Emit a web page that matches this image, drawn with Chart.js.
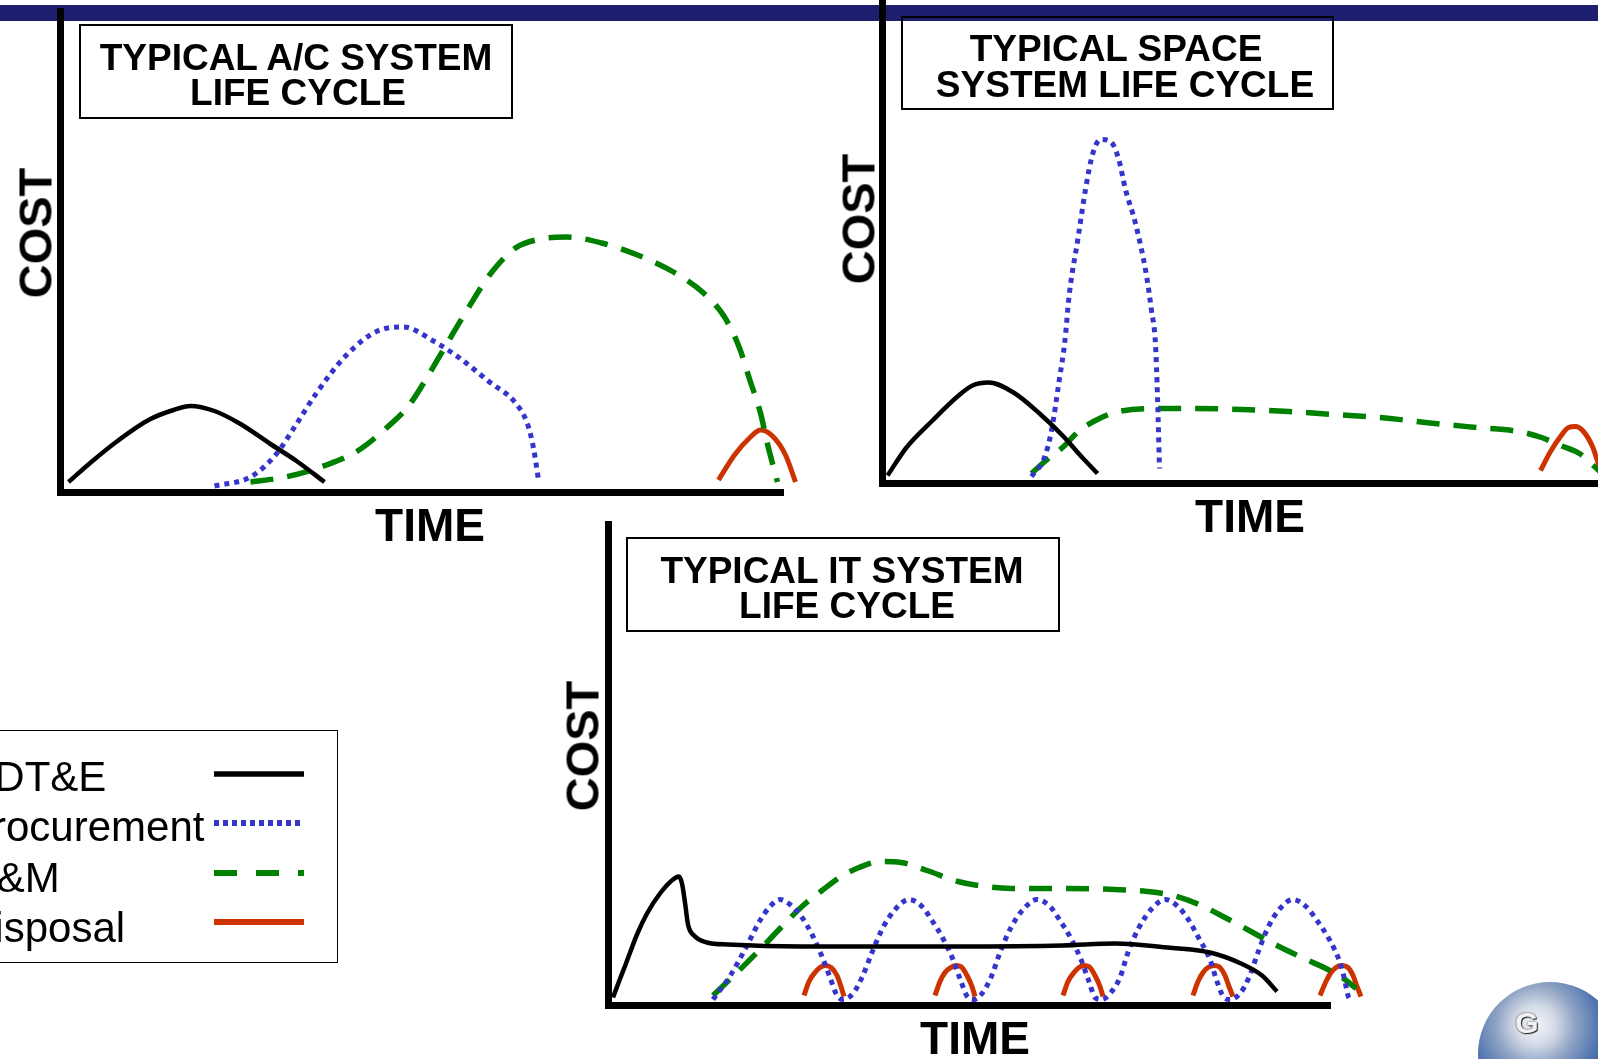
<!DOCTYPE html>
<html>
<head>
<meta charset="utf-8">
<script src="https://cdn.jsdelivr.net/npm/chart.js@4.4.1/dist/chart.umd.min.js"></script>
<style>
  html, body { margin: 0; padding: 0; width: 1598px; height: 1059px; overflow: hidden; background: #fff; position: relative; }
  canvas { position: absolute; left: 0; top: 0; }
  .bar { position: absolute; left: 0; top: 5px; width: 1598px; height: 16px; background: #1e1e6e; }
  .lbl { position: absolute; line-height: 1; white-space: nowrap; font-family: "Liberation Sans", Arial, sans-serif; color: #000; }
  .box { position: absolute; box-sizing: border-box; border: 2px solid #000; }
  .globe { position: absolute; left: 1478px; top: 982px; width: 144px; height: 144px; border-radius: 50%;
           background: radial-gradient(circle at 40% 30%, #f4f6fa 0%, #d3dae6 15%, #8fa3c4 30%, #4f74b0 48%, #2f528e 65%, #223a68 82%, #1b2a4c 100%); filter: blur(0.6px); }
</style>
</head>
<body>
<div class="bar"></div>
<canvas id="acChart" width="1598" height="1059"></canvas>
<canvas id="spaceChart" width="1598" height="1059"></canvas>
<canvas id="itChart" width="1598" height="1059"></canvas>

<script>
// ---- series names + styles (shared legend) ----
const SERIES = ['RDT&E', 'Procurement', 'O&M', 'Disposal'];
const COLORS = ['#000000', '#3535cc', '#008000', '#cc3300'];
const WIDTHS = [4.5, 5, 5.5, 5];
const DASHES = [[], [5, 5], [23, 14], []];

// ---- A/C system (time / cost, no units) ----
const AC_RDTE_X = [8, 32, 57, 88, 113, 130, 154, 180, 210, 236, 264];
const AC_RDTE_Y = [10, 31, 51, 72, 82, 86, 81, 68, 48, 31, 10];
const AC_PROC_X = [154, 190, 215, 236, 256, 286, 317, 343, 373, 399, 429, 455, 467, 473, 478];
const AC_PROC_Y = [6, 15, 37, 68, 99, 137, 161, 165, 151, 134, 110, 89, 68, 44, 12];
const AC_OM_X = [190, 225, 266, 297, 327, 348, 368, 388, 409, 429, 455, 480, 506, 541, 577, 613, 643, 664, 679, 689, 700, 707, 717];
const AC_OM_Y = [10, 15, 27, 41, 65, 86, 117, 151, 186, 217, 244, 253, 255, 249, 237, 220, 199, 175, 144, 113, 79, 48, 10];
const AC_DISP_X = [658, 674, 690, 700, 712, 725, 735];
const AC_DISP_Y = [12, 37, 55, 62, 56, 37, 10];

// ---- Space system ----
const SP_RDTE_X = [5, 24, 50, 75, 90, 106, 131, 157, 182, 197, 215];
const SP_RDTE_Y = [8, 36, 63, 87, 98, 101, 91, 70, 46, 29, 10];
const SP_PROC_X = [149, 162, 169, 177, 182, 187, 195, 203, 210, 218, 228, 236, 243, 253, 264, 269, 273, 275, 277];
const SP_PROC_Y = [7, 26, 53, 105, 139, 191, 242, 294, 329, 344, 342, 325, 294, 260, 208, 173, 139, 87, 15];
const SP_OM_X = [149, 167, 180, 197, 213, 236, 279, 314, 360, 406, 452, 498, 543, 594, 636, 659, 678, 697, 712, 725];
const SP_OM_Y = [10, 26, 36, 53, 63, 72, 75, 75, 74, 72, 69, 66, 61, 56, 52, 46, 38, 30, 17, 5];
const SP_DISP_X = [658, 668, 678, 686, 693, 701, 710, 716, 722];
const SP_DISP_Y = [13, 32, 47, 56, 57, 52, 37, 20, 8];

// ---- IT system ----
const IT_RDTE_X = [5, 11, 18, 29, 39, 52, 65, 71, 74, 77, 80, 86, 99, 120, 194, 350, 455, 507, 560, 602, 633, 654, 669];
const IT_RDTE_Y = [8, 24, 42, 71, 92, 112, 126, 129, 122, 103, 81, 70, 63, 61, 59, 59, 60, 62, 58, 53, 42, 30, 14];
const IT_PROC_X = [105, 123, 139, 152, 162, 172, 182, 194, 204, 214, 222, 229, 235,
                   245, 254, 264, 275, 288, 301, 314, 324, 335, 345, 353, 360, 366,
                   374, 383, 392, 403, 416, 429, 442, 452, 463, 473, 481, 487, 494,
                   502, 512, 520, 531, 544, 557, 570, 581, 591, 602, 609, 616, 622,
                   632, 641, 650, 660, 672, 685, 698, 709, 719, 727, 733, 737, 740, 742];
const IT_PROC_Y = [6, 31, 60, 85, 99, 106, 101, 88, 71, 49, 28, 10, 6,
                   12, 28, 53, 78, 97, 106, 99, 85, 67, 46, 24, 8, 6,
                   12, 28, 53, 78, 97, 106, 99, 85, 67, 46, 24, 8, 6,
                   12, 28, 53, 78, 97, 106, 99, 85, 67, 46, 24, 8, 6,
                   12, 28, 53, 78, 97, 106, 99, 85, 70, 55, 40, 24, 10, 6];
const IT_OM_X = [105, 131, 152, 173, 194, 214, 233, 251, 272, 293, 319, 350, 377, 403, 455, 507, 539, 565, 591, 617, 643, 669, 696, 722, 737, 748];
const IT_OM_Y = [10, 35, 56, 78, 99, 115, 129, 138, 144, 143, 135, 124, 119, 117, 117, 116, 114, 110, 101, 88, 74, 60, 47, 35, 26, 17];
const IT_DISP_X = [196, 201, 207, 212, 217, 223, 229, 233, 236, 236,
                   327, 332, 337, 343, 348, 354, 359, 364, 367, 367,
                   455, 460, 466, 471, 476, 482, 487, 492, 495, 495,
                   585, 590, 595, 600, 606, 612, 617, 621, 625, 625,
                   712, 718, 723, 728, 733, 740, 745, 749, 753];
const IT_DISP_Y = [10, 24, 33, 38, 40, 38, 30, 19, 9, null,
                   10, 24, 33, 38, 40, 38, 30, 19, 9, null,
                   10, 24, 33, 38, 40, 38, 30, 19, 9, null,
                   10, 24, 33, 38, 40, 38, 30, 19, 9, null,
                   10, 24, 33, 38, 40, 38, 30, 19, 9];

function series(xs, ys, i) {
  return {
    label: SERIES[i],
    data: xs.map((x, k) => ({ x: x, y: ys[k] })),
    borderColor: COLORS[i],
    borderWidth: WIDTHS[i],
    borderDash: DASHES[i],
    borderCapStyle: 'butt',
    pointRadius: 0,
    cubicInterpolationMode: 'monotone',
    spanGaps: false,
    clip: false,
    fill: false
  };
}

// axis range is set after the data limits so curves may run past the axis end
function axis(max) {
  return {
    type: 'linear',
    bounds: 'data',
    afterDataLimits: (s) => { s.min = 0; s.max = max; },
    grid: { display: false, drawTicks: false },
    ticks: { display: false },
    border: { display: true, color: '#000', width: 7 }
  };
}

function makeChart(id, pad, xMax, yMax, datasets) {
  return new Chart(document.getElementById(id), {
    type: 'line',
    data: { datasets: datasets },
    options: {
      responsive: false,
      animation: false,
      events: [],
      layout: { padding: pad },
      plugins: { legend: { display: false }, tooltip: { enabled: false } },
      scales: { x: axis(xMax), y: axis(yMax) }
    }
  });
}

makeChart('acChart', { left: 60.5, top: 11, right: 815, bottom: 567 }, 722.5, 481, [
  series(AC_RDTE_X, AC_RDTE_Y, 0), series(AC_PROC_X, AC_PROC_Y, 1),
  series(AC_OM_X, AC_OM_Y, 2), series(AC_DISP_X, AC_DISP_Y, 3)
]);
makeChart('spaceChart', { left: 882.5, top: 2, right: 0, bottom: 575.5 }, 715.5, 481.5, [
  series(SP_RDTE_X, SP_RDTE_Y, 0), series(SP_PROC_X, SP_PROC_Y, 1),
  series(SP_OM_X, SP_OM_Y, 2), series(SP_DISP_X, SP_DISP_Y, 3)
]);
makeChart('itChart', { left: 608, top: 524, right: 268, bottom: 53.5 }, 722, 481.5, [
  series(IT_RDTE_X, IT_RDTE_Y, 0), series(IT_PROC_X, IT_PROC_Y, 1),
  series(IT_OM_X, IT_OM_Y, 2), series(IT_DISP_X, IT_DISP_Y, 3)
]);

// ---- text: titles, axis names, legend ----
function text(str, x, baseY, size, weight, align) {
  const d = document.createElement('div');
  d.className = 'lbl';
  d.textContent = str;
  d.style.fontSize = size + 'px';
  d.style.fontWeight = weight;
  d.style.left = x + 'px';
  d.style.top = (baseY - size * 0.8465) + 'px';
  if (align === 'center') d.style.transform = 'translateX(-50%)';
  document.body.appendChild(d);
  return d;
}

function vtext(str, cx, cy, size) {
  const d = document.createElement('div');
  d.className = 'lbl';
  d.textContent = str;
  d.style.fontSize = size + 'px';
  d.style.fontWeight = 'bold';
  d.style.left = cx + 'px';
  d.style.top = cy + 'px';
  d.style.transform = 'translate(-50%,-50%) rotate(-90deg)';
  document.body.appendChild(d);
}

function box(l, t, r, b, bw) {
  const d = document.createElement('div');
  d.className = 'box';
  d.style.left = l + 'px';
  d.style.top = t + 'px';
  d.style.width = (r - l) + 'px';
  d.style.height = (b - t) + 'px';
  if (bw) d.style.borderWidth = bw + 'px';
  document.body.appendChild(d);
}

box(79, 24, 513, 119);
text('TYPICAL A/C SYSTEM', 296, 70.6, 37, 'bold', 'center');
text('LIFE CYCLE', 298, 105, 37, 'bold', 'center');
vtext('COST', 35, 233, 47);
text('TIME', 430, 541, 46, 'bold', 'center');

box(901, 15.5, 1334, 110);
text('TYPICAL SPACE', 1116, 61, 37, 'bold', 'center');
text('SYSTEM LIFE CYCLE', 1125, 97.5, 37, 'bold', 'center');
vtext('COST', 858, 219, 47);
text('TIME', 1250, 532, 46, 'bold', 'center');

box(626, 537, 1060, 632);
text('TYPICAL IT SYSTEM', 842, 583, 37, 'bold', 'center');
text('LIFE CYCLE', 847, 618, 37, 'bold', 'center');
vtext('COST', 582, 746, 47);
text('TIME', 975, 1054, 46, 'bold', 'center');

// legend (left part runs off the page)
box(-4, 730, 338, 963, 1.5);
const LEG_BASE = [792, 842, 893, 943];
const LEG_LINE = [774, 823, 873, 922];
let svg = '<svg width="1598" height="1059" style="position:absolute;left:0;top:0">';
SERIES.forEach((name, i) => {
  text(name, -36, LEG_BASE[i], 42, 'normal');
  svg += '<line x1="214" x2="304" y1="' + LEG_LINE[i] + '" y2="' + LEG_LINE[i] + '" stroke="' + COLORS[i] +
         '" stroke-width="' + (i === 0 ? 5.5 : 6) + '" stroke-dasharray="' + (i === 2 ? '23,19' : i === 1 ? '5,4' : '') + '"/>';
});
svg += '</svg>';
document.body.insertAdjacentHTML('beforeend', svg);

// corner logo
document.body.insertAdjacentHTML('beforeend', '<div class="globe"></div>');
const g = text('G', 1527, 1033, 30, 'bold', 'center');
g.style.color = '#f2f2f2';
g.style.textShadow = '0 0 2px #333, 1px 1px 1px #222';
</script>
</body>
</html>
